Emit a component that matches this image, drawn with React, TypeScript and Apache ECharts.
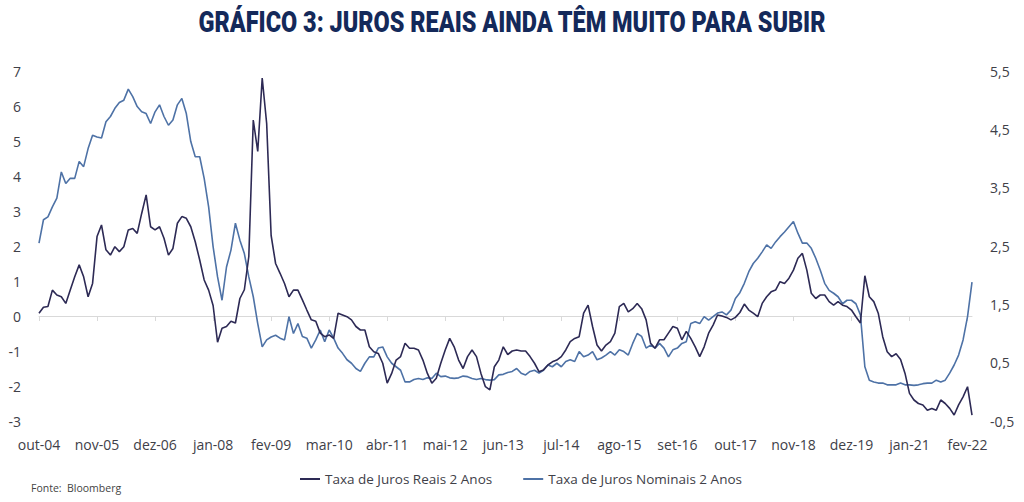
import React, { useEffect, useRef } from "react";
import * as echarts from "echarts";

const TITLE = "GRÁFICO 3: JUROS REAIS AINDA TÊM MUITO PARA SUBIR";
const SOURCE = "Fonte:  Bloomberg";
const SERIES_NAMES = ["Taxa de Juros Reais 2 Anos", "Taxa de Juros Nominais 2 Anos"];
const MONTHS = ["jan", "fev", "mar", "abr", "mai", "jun", "jul", "ago", "set", "out", "nov", "dez"];
const START_MONTH = 9; // out
const START_YEAR = 2004;

// Taxa de Juros Reais 2 Anos (eixo esquerdo), mensal out-04 .. mar-22
const realRates = [
  0.08, 0.25, 0.27, 0.74, 0.6, 0.55, 0.36, 0.74, 1.12, 1.46,
  1.12, 0.55, 0.93, 2.27, 2.6, 1.89, 1.74, 1.98, 1.84, 1.98,
  2.46, 2.5, 2.36, 2.93, 3.46, 2.55, 2.46, 2.55, 2.22, 1.74,
  1.93, 2.65, 2.84, 2.79, 2.55, 2.12, 1.6, 1.03, 0.74, 0.3,
  -0.75, -0.35, -0.3, -0.15, -0.2, 0.5, 0.75, 1.7, 5.6, 4.7,
  6.8, 5.5, 2.3, 1.5, 1.22, 0.93, 0.55, 0.74, 0.74, 0.46,
  0.17, -0.11, -0.15, -0.49, -0.59, -0.54, -0.64, 0.08, 0.03, -0.02,
  -0.11, -0.3, -0.4, -0.4, -0.88, -1.02, -1.07, -1.35, -1.92, -1.64,
  -1.26, -1.16, -0.78, -0.92, -0.92, -0.97, -1.26, -1.64, -1.92, -1.78,
  -1.35, -0.97, -0.64, -0.88, -1.26, -1.5, -1.16, -0.97, -1.16, -1.64,
  -2.02, -2.11, -1.45, -1.26, -0.88, -1.1, -1.0, -0.97, -1.0, -1.0,
  -1.16, -1.35, -1.59, -1.54, -1.4, -1.31, -1.26, -1.16, -0.97, -0.73,
  -0.64, -0.59, 0.08, 0.31, -0.3, -0.83, -1.0, -0.83, -0.73, -0.49,
  0.27, 0.36, 0.12, 0.21, 0.36, 0.21, -0.11, -0.78, -0.92, -0.68,
  -0.68, -0.49, -0.3, -0.35, -0.68, -0.44, -0.64, -0.88, -1.16, -0.88,
  -0.49, -0.26, 0.03, 0.0, -0.04, -0.11, -0.04, 0.1, 0.34, 0.17,
  0.08, -0.02, 0.36, 0.55, 0.69, 0.74, 0.98, 0.93, 1.08, 1.31,
  1.65, 1.79, 1.31, 0.65, 0.5, 0.6, 0.6, 0.41, 0.31, 0.41,
  0.31, 0.27, 0.17, -0.02, -0.2, 1.15, 0.55, 0.41, 0.08, -0.59,
  -1.02, -1.16, -1.08, -1.24, -1.64, -2.21, -2.4, -2.5, -2.54, -2.69,
  -2.64, -2.69, -2.4, -2.5, -2.64, -2.83, -2.54, -2.31, -2.02, -2.83,
];

// Taxa de Juros Nominais 2 Anos (eixo direito)
const nominalRates = [
  2.55, 2.95, 3.0, 3.17, 3.32, 3.77, 3.57, 3.66, 3.66, 3.95,
  3.86, 4.17, 4.4, 4.37, 4.35, 4.63, 4.72, 4.86, 4.96, 5.0,
  5.19, 5.06, 4.89, 4.8, 4.77, 4.6, 4.8, 4.92, 4.72, 4.57,
  4.66, 4.92, 5.03, 4.77, 4.29, 4.03, 4.03, 3.66, 3.17, 2.49,
  1.97, 1.57, 2.14, 2.43, 2.89, 2.6, 2.37, 1.97, 1.63, 1.17,
  0.77, 0.89, 0.94, 0.97, 0.92, 0.89, 1.29, 1.0, 1.17, 0.95,
  0.92, 0.75, 0.89, 1.06, 0.86, 1.06, 0.92, 0.75, 0.66, 0.55,
  0.49, 0.4, 0.35, 0.49, 0.6, 0.6, 0.75, 0.77, 0.6, 0.49,
  0.43, 0.37, 0.17, 0.17, 0.21, 0.23, 0.21, 0.24, 0.23, 0.32,
  0.26, 0.27, 0.24, 0.23, 0.24, 0.27, 0.26, 0.23, 0.21, 0.23,
  0.21, 0.2, 0.21, 0.29, 0.3, 0.33, 0.35, 0.4, 0.32, 0.29,
  0.35, 0.37, 0.32, 0.37, 0.46, 0.43, 0.49, 0.43, 0.52, 0.55,
  0.52, 0.69, 0.6, 0.63, 0.69, 0.55, 0.58, 0.63, 0.69, 0.63,
  0.72, 0.69, 0.63, 0.83, 1.0, 0.95, 0.75, 0.8, 0.75, 0.83,
  0.75, 0.6, 0.72, 0.75, 0.83, 0.86, 1.17, 1.2, 1.17, 1.29,
  1.23, 1.29, 1.35, 1.37, 1.32, 1.4, 1.6, 1.7, 1.86, 2.06,
  2.2, 2.29, 2.4, 2.52, 2.46, 2.57, 2.66, 2.74, 2.83, 2.92,
  2.72, 2.55, 2.55, 2.46, 2.29, 2.09, 1.86, 1.74, 1.69, 1.63,
  1.51, 1.57, 1.57, 1.51, 1.32, 0.43, 0.2, 0.17, 0.15, 0.15,
  0.12, 0.12, 0.12, 0.15, 0.12, 0.12, 0.11, 0.12, 0.14, 0.15,
  0.15, 0.2, 0.17, 0.2, 0.32, 0.46, 0.63, 0.89, 1.29, 1.88,
];

const categories: string[] = realRates.map((_, i) => {
  const m = (START_MONTH + i) % 12;
  const y = START_YEAR + Math.floor((START_MONTH + i) / 12);
  return `${MONTHS[m]}-${String(y % 100).padStart(2, "0")}`;
});

const FONT = "'Open Sans', sans-serif";
const TEXT_COLOR = "#404048";
const DARK = "#2d2a55";
const BLUE = "#4e72a6";

export default function App() {
  const ref = useRef<HTMLDivElement>(null);
  useEffect(() => {
    if (!ref.current) return;
    const chart = echarts.init(ref.current, null, { renderer: "svg" });

    const titleFont = "900 30px Roboto";
    const cv = document.createElement("canvas").getContext("2d");
    let scaleX = 0.85;
    if (cv) {
      cv.font = titleFont;
      const w = cv.measureText(TITLE).width;
      if (w > 0) scaleX = 628 / w;
    }

    chart.setOption({
      animation: false,
      backgroundColor: "#ffffff",
      grid: { left: 39, right: 52, top: 71, bottom: 81, containLabel: false },
      legend: {
        data: SERIES_NAMES,
        left: 295,
        top: 467,
        icon: "rect",
        itemWidth: 20,
        itemHeight: 2,
        itemGap: 31,
        textStyle: { fontFamily: FONT, fontSize: 13.5, color: TEXT_COLOR },
      },
      graphic: [
        {
          type: "text",
          x: 512,
          y: 22,
          scaleX,
          style: {
            text: TITLE,
            font: titleFont,
            fill: "#14295a",
            align: "center",
            verticalAlign: "middle",
          },
        },
        {
          type: "text",
          x: 31,
          y: 488,
          style: {
            text: SOURCE,
            font: `10.5px ${FONT}`,
            fill: "#444444",
            align: "left",
            verticalAlign: "middle",
          },
        },
      ],
      xAxis: [
        {
          type: "category",
          data: categories,
          boundaryGap: false,
          position: "bottom",
          axisLine: { show: false, onZero: false },
          axisTick: { show: false },
          splitLine: { show: false },
          axisLabel: {
            interval: 12,
            margin: 16,
            color: TEXT_COLOR,
            fontSize: 14,
            fontFamily: FONT,
          },
        },
        {
          type: "category",
          data: categories,
          boundaryGap: false,
          position: "bottom",
          axisLine: { show: true, onZero: true, lineStyle: { color: "#d9d9d9", width: 1 } },
          axisTick: { show: true, interval: 12, length: 5, lineStyle: { color: "#d9d9d9" } },
          axisLabel: { show: false },
          splitLine: { show: false },
        },
      ],
      yAxis: [
        {
          type: "value",
          min: -3,
          max: 7,
          interval: 1,
          position: "left",
          axisLine: { show: false },
          axisTick: { show: false },
          splitLine: { show: false },
          axisLabel: { margin: 18, color: TEXT_COLOR, fontSize: 14, fontFamily: FONT },
        },
        {
          type: "value",
          min: -0.5,
          max: 5.5,
          interval: 1,
          position: "right",
          axisLine: { show: false },
          axisTick: { show: false },
          splitLine: { show: false },
          axisLabel: {
            margin: 18,
            color: TEXT_COLOR,
            fontSize: 14,
            fontFamily: FONT,
            formatter: (v: number) => v.toFixed(1).replace(".", ","),
          },
        },
      ],
      series: [
        {
          name: SERIES_NAMES[1],
          type: "line",
          xAxisIndex: 0,
          yAxisIndex: 1,
          data: nominalRates,
          symbol: "none",
          lineStyle: { color: BLUE, width: 1.6 },
          itemStyle: { color: BLUE },
        },
        {
          name: SERIES_NAMES[0],
          type: "line",
          xAxisIndex: 0,
          yAxisIndex: 0,
          data: realRates,
          symbol: "none",
          lineStyle: { color: DARK, width: 1.6 },
          itemStyle: { color: DARK },
        },
      ],
    });
    return () => chart.dispose();
  }, []);

  return (
    <div
      ref={ref}
      style={{ position: "fixed", left: 0, top: 0, width: 1024, height: 502, background: "#fff" }}
    />
  );
}
